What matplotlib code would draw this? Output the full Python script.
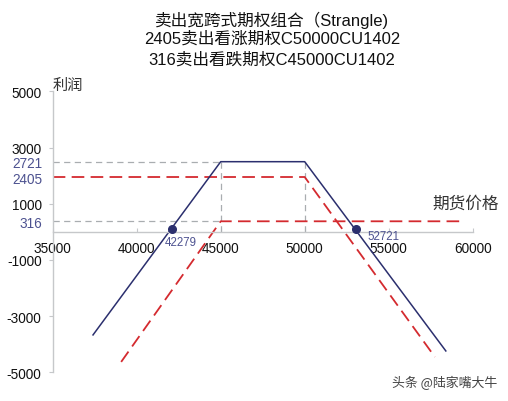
import matplotlib
matplotlib.use("Agg")
import matplotlib.pyplot as plt

plt.rcParams['font.family'] = ['Liberation Sans', 'Noto Sans CJK SC', 'DejaVu Sans']

# ---- data (schematic positions) ----
title_lines = ["卖出宽跨式期权组合（Strangle)",
               "2405卖出看涨期权C50000CU1402",
               "316卖出看跌期权C45000CU1402"]

combo_x = [37400, 45000, 50000, 58400]
combo_y = [-3670, 2495, 2495, -4240]

call_x = [35000, 50000, 57750]
call_y = [1950, 1950, -4455]

put_x = [39075, 45000, 59200]
put_y = [-4630, 374, 374]

breakeven_x = [42100, 53050]
breakeven_y = [100, 100]
breakeven_labels = ["42279", "52721"]

xticks = [35000, 40000, 45000, 50000, 55000, 60000]
yticks = [5000, 3000, 1000, -1000, -3000, -5000]
level_pos = [2495, 1950, 374]
level_labels = ["2721", "2405", "316"]

strike_lo, strike_hi = 45000, 50000

navy = "#2b2f6e"
red = "#d42a2f"
gray = "#a9adb0"
slate = "#4d5290"

fig = plt.figure(figsize=(5.08, 4.02), dpi=100)
ax = fig.add_axes([52.7/508, 28.7/402, 420/508, 281/402])
ax.set_xlim(35000, 60000)
ax.set_ylim(-5000, 5000)

# gray guide lines
gkw = dict(color=gray, lw=0.9, dashes=(5, 3.5))
ax.plot([35000, strike_lo], [level_pos[0]] * 2, **gkw)
ax.plot([35000, strike_lo], [level_pos[2]] * 2, **gkw)
ax.plot([strike_lo, strike_lo], [0, level_pos[0]], **gkw)
ax.plot([strike_hi, strike_hi], [0, level_pos[0]], **gkw)

# option legs
ax.plot(call_x, call_y, color=red, lw=1.3, dashes=(7, 3.5))
ax.plot(put_x, put_y, color=red, lw=1.3, dashes=(7, 3.5))

# combined payoff
ax.plot(combo_x, combo_y, color=navy, lw=1.1)

ax.plot(breakeven_x, breakeven_y, 'o', color=navy, ms=5.5, zorder=5)
ax.text(41685, -363, breakeven_labels[0], color=slate,
        fontsize=8.3, ha='left', va='center')
ax.text(53716, -167, breakeven_labels[1], color=slate,
        fontsize=8.3, ha='left', va='center')

# spines
for s in ['top', 'right']:
    ax.spines[s].set_visible(False)
ax.spines['bottom'].set_position(('data', 0))
for s in ['left', 'bottom']:
    ax.spines[s].set_color('#c6c8ca')
    ax.spines[s].set_linewidth(1.0)

ax.set_xticks(xticks)
ax.set_xticklabels([str(v) for v in xticks])
ax.set_yticks(yticks)
ax.set_yticklabels([str(v) for v in yticks])
ax.set_yticks(level_pos, minor=True)
ax.set_yticklabels(level_labels, minor=True)

ax.tick_params(axis='x', direction='in', length=3, color='#c6c8ca',
               labelsize=9.8, pad=6.5, labelcolor='#111111')
ax.tick_params(axis='y', which='major', direction='out', length=3,
               color='#c6c8ca', labelsize=9.8, pad=5, labelcolor='#111111')
ax.tick_params(axis='y', which='minor', length=0, labelsize=9.8, pad=7.2,
               labelcolor=slate)

# axis captions
ax.text(35000, 5260, "利润", fontsize=11, color='#333333', ha='left',
        va='center', family=['Noto Sans CJK SC'])
ax.text(57577, 1025, "期货价格", fontsize=12, color='#333333', ha='left',
        va='center', family=['Noto Sans CJK SC'])

# title
for txt, yy in zip(title_lines, [20, 39, 60]):
    fig.text(272/508, 1 - yy/402, txt, ha='center', va='center',
             fontsize=12, color='#111111')

# watermark
fig.text(392/508, 1 - 383/402, "头条 @陆家嘴大牛", ha='left', va='center',
         fontsize=9.3, color='#444444', family=['Noto Sans CJK SC'])

fig.savefig("out.png", dpi=100)
